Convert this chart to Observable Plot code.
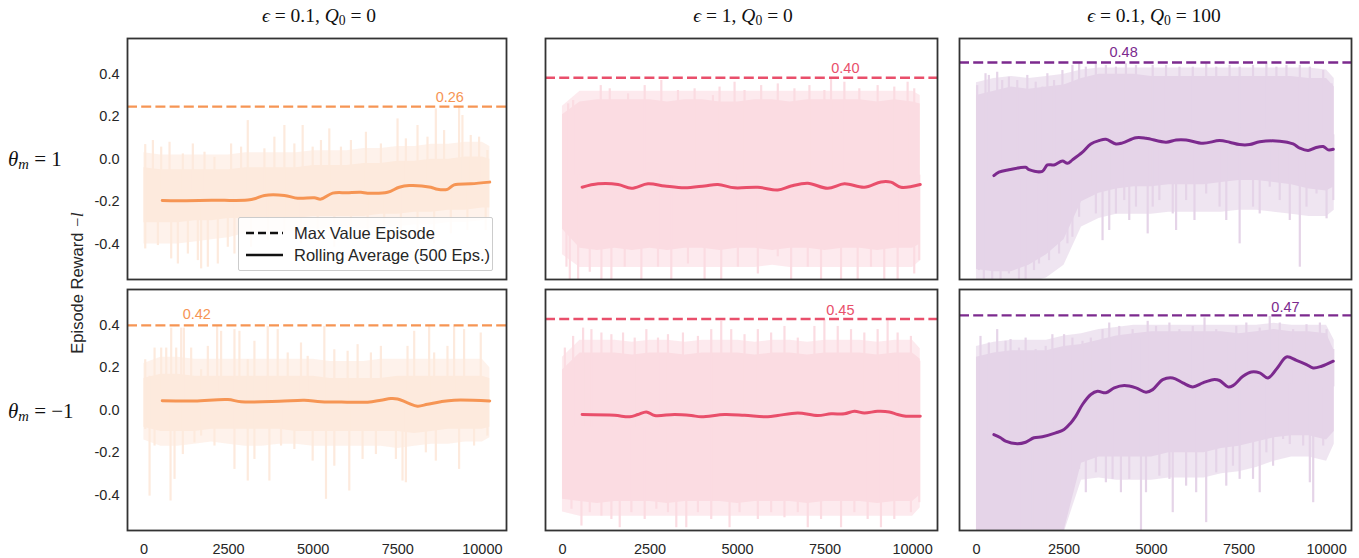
<!DOCTYPE html>
<html><head><meta charset="utf-8">
<script src="https://cdn.jsdelivr.net/npm/d3@7"></script>
<script src="https://cdn.jsdelivr.net/npm/@observablehq/plot@0.6"></script>
<style>
body{margin:0;background:#fff;}
#fig{position:relative;width:1359px;height:558px;overflow:hidden;font-family:"Liberation Sans",Arial,sans-serif;color:#262626;}
.panel{position:absolute;}
.panel svg{overflow:visible;display:block;}
.math{position:absolute;font-family:"Liberation Serif","DejaVu Serif",serif;font-size:19.5px;white-space:nowrap;color:#111;}
.math i{font-style:italic;}
.math sub{font-size:70%;vertical-align:-0.25em;line-height:0;}
#ylab{position:absolute;left:78px;top:283px;transform:translate(-50%,-50%) rotate(-90deg);font-size:16.5px;white-space:nowrap;}
#ylab i{font-family:"Liberation Serif",serif;font-style:italic;}
#legend{position:absolute;left:238px;top:217px;width:253px;height:52px;border:1px solid #cccccc;background:rgba(255,255,255,0.85);border-radius:2px;font-size:16.5px;}
#legend .row{position:absolute;left:0;height:18px;width:100%;}
#legend svg{position:absolute;left:6px;top:0;}
#legend span{position:absolute;left:55px;top:0;line-height:18px;}
</style></head><body><div id="fig"></div><script>
// ---------------- data ----------------
const colTitles = ["<i>ϵ</i> = 0.1, <i>Q</i><sub>0</sub> = 0", "<i>ϵ</i> = 1, <i>Q</i><sub>0</sub> = 0", "<i>ϵ</i> = 0.1, <i>Q</i><sub>0</sub> = 100"];
const rowTitles = ["<i>θ</i><sub><i>m</i></sub> = 1", "<i>θ</i><sub><i>m</i></sub> = −1"];
const yLabel = "Episode Reward <i>−l</i>";
const legendLabels = ["Max Value Episode", "Rolling Average (500 Eps.)"];
const xTickValues = [0, 2500, 5000, 7500, 10000];
const xTickLabels = ["0", "2500", "5000", "7500", "10000"];
const yTickValues = [-0.4, -0.2, 0, 0.2, 0.4];
const yTickLabels = ["-0.4", "-0.2", "0.0", "0.2", "0.4"];
const lineColors = ["#f69554", "#e94f6b", "#7c2a8e"];
const fillColors = ["#fdeadd", "#fbdce2", "#e5d4e8"];

const coreEp = [0,500,1000,1500,2000,2500,3000,3500,4000,4500,5000,5500,6000,6500,7000,7500,8000,8500,9000,9500,10000,10220];

// Panel A: theta=1, eps=0.1, Q0=0
const A_coreHi = [-0.04,-0.05,-0.05,-0.05,-0.05,-0.05,-0.04,-0.04,-0.04,-0.04,-0.03,-0.03,-0.03,-0.02,-0.02,-0.01,-0.01,0.0,0.0,0.01,0.01,0.0];
const A_coreLo = [-0.30,-0.30,-0.30,-0.29,-0.29,-0.28,-0.28,-0.28,-0.28,-0.28,-0.27,-0.27,-0.27,-0.27,-0.26,-0.26,-0.25,-0.25,-0.24,-0.24,-0.23,-0.23];
const A_fringeHi = [0.03,0.02,0.02,0.02,0.02,0.02,0.03,0.03,0.03,0.03,0.04,0.04,0.04,0.05,0.05,0.06,0.06,0.07,0.07,0.08,0.08,0.06];
const A_fringeLo = [-0.40,-0.40,-0.40,-0.39,-0.38,-0.37,-0.35,-0.35,-0.34,-0.34,-0.33,-0.33,-0.33,-0.33,-0.32,-0.32,-0.31,-0.31,-0.30,-0.30,-0.29,-0.28];
const A_upEp = [39,265,511,757,1150,1445,1790,2085,2576,2871,3068,3560,3855,4150,4445,4690,4985,5231,5477,5821,6116,6559,7001,7493,7739,8083,8378,8624,8869,9312,9410,9656,9902,10147];
const A_upVal = [0.069,0.088,0.057,0.080,0.025,0.072,0.033,0.009,0.072,0.057,0.182,0.049,0.104,0.159,0.072,0.159,0.057,0.088,0.143,0.057,0.088,0.127,0.072,0.190,0.096,0.159,0.104,0.237,0.135,0.245,0.206,0.112,0.104,0.041];
const A_dnEp = [39,413,806,1003,1298,1593,1691,1888,2183,2478,2675,3166,3658,4150,4641,5133,5625,6116,6608,7100,7591,8083,8575,9067,9558,10098];
const A_dnVal = [-0.423,-0.407,-0.470,-0.494,-0.447,-0.478,-0.517,-0.509,-0.494,-0.415,-0.447,-0.415,-0.384,-0.352,-0.399,-0.352,-0.415,-0.352,-0.384,-0.336,-0.384,-0.352,-0.399,-0.352,-0.336,-0.336];
const A_rollEp = [541,1000,2000,3068,3300,3560,4150,4543,5034,5231,5575,6000,6411,6608,7198,7542,7837,8476,8673,8968,9164,9656,10216];
const A_rollVal = [-0.195,-0.196,-0.194,-0.192,-0.185,-0.171,-0.171,-0.184,-0.182,-0.188,-0.160,-0.158,-0.156,-0.160,-0.156,-0.132,-0.124,-0.132,-0.142,-0.142,-0.121,-0.116,-0.108];

// Panel B: theta=1, eps=1, Q0=0
const B_coreHi = [0.21,0.27,0.28,0.28,0.28,0.28,0.27,0.28,0.28,0.27,0.27,0.28,0.28,0.27,0.28,0.28,0.28,0.28,0.27,0.28,0.27,0.26];
const B_coreLo = [-0.33,-0.42,-0.43,-0.42,-0.43,-0.42,-0.43,-0.42,-0.42,-0.43,-0.42,-0.42,-0.43,-0.42,-0.42,-0.43,-0.42,-0.42,-0.43,-0.42,-0.42,-0.40];
const B_fringeHi = [0.25,0.32,0.32,0.32,0.32,0.32,0.32,0.32,0.32,0.32,0.32,0.32,0.32,0.32,0.32,0.32,0.32,0.32,0.32,0.32,0.32,0.30];
const B_fringeLo = [-0.45,-0.51,-0.51,-0.51,-0.51,-0.51,-0.51,-0.51,-0.51,-0.51,-0.51,-0.51,-0.50,-0.51,-0.51,-0.51,-0.51,-0.51,-0.51,-0.51,-0.51,-0.48];
const B_upEp = [162,304,1093,1350,1873,2348,2823,3299,3774,4297,4487,4915,5200,5675,6150,6626,7054,7481,7671,8052,8479,9002,9478,9858,10048];
const B_upVal = [0.261,0.277,0.347,0.332,0.308,0.347,0.371,0.324,0.332,0.300,0.340,0.363,0.324,0.347,0.355,0.332,0.347,0.324,0.379,0.363,0.332,0.347,0.340,0.363,0.332];
const B_dnEp = [114,209,447,779,1112,1397,1778,2253,2728,3108,3584,4059,4534,5010,5580,6150,6531,7006,7386,7957,8432,8812,9192,9573,10048,10191];
const B_dnVal = [-0.509,-0.58,-0.58,-0.533,-0.58,-0.58,-0.509,-0.58,-0.509,-0.58,-0.494,-0.58,-0.58,-0.509,-0.541,-0.46,-0.58,-0.509,-0.58,-0.58,-0.58,-0.509,-0.58,-0.58,-0.541,-0.478];
const B_rollEp = [561,1017,1588,1968,2443,2918,3489,4059,4439,4915,5580,6150,6531,7006,7576,8052,8622,9097,9382,9668,10219];
const B_rollVal = [-0.132,-0.116,-0.119,-0.137,-0.116,-0.126,-0.135,-0.126,-0.119,-0.135,-0.132,-0.145,-0.126,-0.113,-0.137,-0.116,-0.132,-0.107,-0.108,-0.132,-0.119];

// Panel C: theta=1, eps=0.1, Q0=100
const C_coreHi = [0.30,0.32,0.34,0.33,0.34,0.35,0.38,0.40,0.40,0.40,0.39,0.39,0.39,0.39,0.39,0.39,0.39,0.39,0.39,0.38,0.38,0.34];
const C_coreLo = [-0.52,-0.53,-0.53,-0.50,-0.45,-0.38,-0.20,-0.16,-0.14,-0.13,-0.13,-0.12,-0.12,-0.12,-0.11,-0.10,-0.10,-0.11,-0.12,-0.14,-0.15,-0.13];
const C_fringeHi = [0.36,0.38,0.39,0.38,0.39,0.40,0.42,0.43,0.43,0.43,0.43,0.43,0.43,0.43,0.43,0.43,0.43,0.43,0.43,0.43,0.42,0.38];
const C_fringeLo = [-0.58,-0.58,-0.58,-0.58,-0.56,-0.50,-0.32,-0.28,-0.26,-0.26,-0.26,-0.25,-0.25,-0.25,-0.25,-0.24,-0.24,-0.25,-0.26,-0.27,-0.27,-0.24];
const C_upEp = [20,258,353,592,735,926,1165,1452,1691,1882,2025,2216,2455,2741,2932,3123,3410,3696,3983,4269,4556,5033,5415,5797,6179,6561,6848,7230,7517,7899,8281,8567,8854,9236,9522,9904,10143];
const C_upVal = [0.347,0.403,0.395,0.410,0.371,0.387,0.371,0.395,0.363,0.340,0.403,0.371,0.418,0.442,0.450,0.434,0.450,0.442,0.434,0.450,0.442,0.442,0.442,0.434,0.434,0.450,0.434,0.442,0.434,0.442,0.450,0.434,0.442,0.442,0.434,0.418,0.355];
const C_dnEp = [67,210,449,688,926,1213,1404,1643,1786,2073,2359,2598,2741,2837,2932,3123,3266,3410,3601,3792,3983,4221,4364,4556,4890,5033,5224,5606,5702,5988,6227,6561,6944,7135,7517,7899,8090,8376,8663,8949,9236,9427,9713,10000,10191];
const C_dnVal = [-0.525,-0.58,-0.58,-0.58,-0.541,-0.58,-0.58,-0.525,-0.494,-0.478,-0.447,-0.399,-0.368,-0.211,-0.274,-0.164,-0.132,-0.258,-0.384,-0.336,-0.258,-0.195,-0.289,-0.226,-0.352,-0.226,-0.195,-0.258,-0.336,-0.195,-0.289,-0.164,-0.226,-0.289,-0.399,-0.226,-0.258,-0.132,-0.195,-0.289,-0.509,-0.226,-0.164,-0.281,-0.195];
const C_rollEp = [497,640,926,1404,1500,1882,2025,2216,2455,2598,2741,3028,3266,3505,3696,3983,4174,4556,4842,5415,5702,5988,6466,6944,7230,7517,7803,8090,8663,9045,9236,9475,9666,9904,10048,10191];
const C_rollVal = [-0.077,-0.061,-0.050,-0.038,-0.049,-0.057,-0.027,-0.027,-0.009,-0.019,-0.003,0.033,0.072,0.088,0.094,0.072,0.077,0.101,0.099,0.080,0.091,0.091,0.075,0.088,0.080,0.069,0.069,0.082,0.085,0.072,0.052,0.041,0.053,0.060,0.044,0.047];

// Panel D: theta=-1, eps=0.1, Q0=0
const D_coreHi = [0.15,0.17,0.17,0.16,0.16,0.16,0.16,0.16,0.16,0.16,0.16,0.15,0.15,0.15,0.15,0.16,0.16,0.16,0.16,0.16,0.16,0.15];
const D_coreLo = [-0.08,-0.10,-0.10,-0.10,-0.09,-0.09,-0.09,-0.09,-0.09,-0.10,-0.10,-0.10,-0.10,-0.10,-0.10,-0.10,-0.11,-0.10,-0.09,-0.09,-0.09,-0.08];
const D_fringeHi = [0.22,0.25,0.25,0.24,0.24,0.24,0.24,0.24,0.24,0.24,0.24,0.23,0.23,0.23,0.24,0.24,0.24,0.24,0.24,0.24,0.24,0.20];
const D_fringeLo = [-0.14,-0.17,-0.17,-0.16,-0.15,-0.16,-0.17,-0.17,-0.16,-0.16,-0.17,-0.17,-0.17,-0.17,-0.17,-0.18,-0.17,-0.16,-0.16,-0.15,-0.15,-0.13];
const D_upEp = [39,167,315,413,511,659,806,954,1101,1180,1396,1691,1888,2163,2281,2675,2822,3068,3265,3658,3953,4248,4641,4838,5330,5625,6018,6313,6706,7001,7788,7985,8427,8575,8968,9164,9459,9951,10147];
const D_upVal = [0.238,0.160,0.293,0.144,0.293,0.293,0.387,0.293,0.387,0.387,0.293,0.191,0.301,0.395,0.372,0.380,0.372,0.238,0.325,0.395,0.380,0.270,0.317,0.254,0.395,0.285,0.278,0.309,0.270,0.301,0.301,0.372,0.395,0.270,0.301,0.395,0.380,0.364,0.144];
const D_dnEp = [39,167,315,787,905,1150,1494,1691,2085,2675,3068,3265,3707,4051,4445,4985,5379,5625,6067,6460,6854,7444,7640,7739,8329,8624,9312,9754,10147];
const D_dnVal = [-0.091,-0.405,-0.169,-0.428,-0.326,-0.209,-0.154,-0.122,-0.169,-0.279,-0.334,-0.232,-0.334,-0.169,-0.185,-0.240,-0.420,-0.264,-0.381,-0.232,-0.209,-0.232,-0.334,-0.342,-0.201,-0.240,-0.279,-0.169,-0.122];
const D_rollEp = [541,1500,2478,2871,4000,4740,5231,6000,6608,7001,7296,7493,7788,8083,8378,8771,9164,10216];
const D_rollVal = [0.045,0.044,0.050,0.040,0.042,0.047,0.040,0.038,0.038,0.047,0.055,0.053,0.035,0.019,0.028,0.040,0.047,0.044];

// Panel E: theta=-1, eps=1, Q0=0
const E_coreHi = [0.19,0.27,0.27,0.27,0.26,0.27,0.27,0.26,0.27,0.27,0.27,0.26,0.27,0.27,0.26,0.27,0.27,0.27,0.26,0.27,0.27,0.24];
const E_coreLo = [-0.42,-0.43,-0.44,-0.43,-0.43,-0.43,-0.44,-0.43,-0.43,-0.43,-0.44,-0.43,-0.43,-0.43,-0.44,-0.43,-0.43,-0.43,-0.44,-0.43,-0.43,-0.40];
const E_fringeHi = [0.25,0.33,0.33,0.33,0.32,0.33,0.33,0.32,0.33,0.33,0.33,0.32,0.33,0.33,0.32,0.33,0.33,0.33,0.32,0.33,0.33,0.29];
const E_fringeLo = [-0.48,-0.50,-0.50,-0.50,-0.50,-0.50,-0.50,-0.50,-0.50,-0.50,-0.50,-0.50,-0.50,-0.50,-0.50,-0.50,-0.50,-0.50,-0.50,-0.50,-0.50,-0.46];
const E_upEp = [67,304,589,827,1112,1397,1730,2063,2396,2728,3013,3441,3869,4249,4534,4820,5200,5580,5960,6341,6721,7196,7481,7862,8242,8622,9002,9287,9573,9953,10191];
const E_upVal = [0.293,0.348,0.387,0.380,0.364,0.356,0.364,0.340,0.380,0.340,0.356,0.364,0.348,0.380,0.419,0.380,0.356,0.380,0.364,0.395,0.340,0.395,0.427,0.395,0.380,0.364,0.380,0.427,0.364,0.348,0.231];
const E_dnEp = [67,257,542,779,1112,1397,1635,1968,2348,2681,3013,3251,3536,3869,4249,4772,5057,5580,5960,6341,6721,7006,7386,7957,8337,8717,9097,9478,9953,10191];
const E_dnVal = [-0.420,-0.467,-0.546,-0.483,-0.499,-0.515,-0.554,-0.483,-0.515,-0.467,-0.483,-0.554,-0.554,-0.483,-0.515,-0.554,-0.483,-0.515,-0.483,-0.507,-0.483,-0.554,-0.515,-0.554,-0.483,-0.515,-0.554,-0.515,-0.483,-0.436];
const E_rollEp = [561,1492,1920,2158,2396,2633,3203,3679,3964,4629,5200,5865,6150,6721,7291,7671,8052,8337,8622,9002,9335,9573,9810,10219];
const E_rollVal = [-0.020,-0.024,-0.031,-0.020,-0.008,-0.025,-0.020,-0.025,-0.031,-0.020,-0.024,-0.031,-0.025,-0.013,-0.025,-0.017,-0.017,-0.005,-0.013,-0.005,-0.008,-0.020,-0.028,-0.028];

// Panel F: theta=-1, eps=0.1, Q0=100
const F_coreHi = [0.25,0.27,0.28,0.28,0.28,0.30,0.31,0.33,0.35,0.36,0.37,0.37,0.37,0.37,0.37,0.36,0.37,0.38,0.37,0.37,0.36,0.28];
const F_coreLo = [-0.58,-0.58,-0.58,-0.58,-0.58,-0.57,-0.25,-0.22,-0.22,-0.22,-0.22,-0.20,-0.20,-0.20,-0.18,-0.17,-0.15,-0.13,-0.12,-0.12,-0.14,-0.10];
const F_fringeHi = [0.30,0.32,0.33,0.33,0.33,0.35,0.36,0.38,0.39,0.40,0.40,0.40,0.40,0.40,0.40,0.40,0.40,0.41,0.40,0.40,0.40,0.33];
const F_fringeLo = [-0.58,-0.58,-0.58,-0.58,-0.58,-0.58,-0.33,-0.32,-0.33,-0.33,-0.33,-0.32,-0.32,-0.32,-0.30,-0.29,-0.27,-0.24,-0.22,-0.22,-0.24,-0.16];
const F_upEp = [115,353,592,831,974,1213,1404,1691,1977,2168,2502,2741,3028,3266,3601,3792,4078,4460,4651,4890,5129,5511,5797,6179,6514,6848,7135,7421,7708,8090,8376,8663,9045,9427,9809,10000,10191];
const F_upVal = [0.348,0.317,0.380,0.325,0.333,0.293,0.340,0.286,0.301,0.356,0.356,0.340,0.325,0.340,0.380,0.411,0.395,0.380,0.340,0.419,0.395,0.411,0.380,0.395,0.435,0.380,0.333,0.395,0.411,0.387,0.442,0.411,0.380,0.403,0.411,0.380,0.286];
const F_dnEp = [67,449,831,1213,1595,1977,2359,2598,2741,2932,3123,3410,3696,3887,4126,4364,4699,4842,5224,5511,5606,5988,6275,6561,6848,7135,7326,7517,7899,8090,8281,8472,8758,8949,9331,9522,9618,9904,10095];
const F_dnVal = [-0.58,-0.58,-0.58,-0.58,-0.58,-0.58,-0.58,-0.264,-0.358,-0.279,-0.389,-0.295,-0.342,-0.326,-0.389,-0.326,-0.58,-0.389,-0.311,-0.326,-0.483,-0.358,-0.389,-0.530,-0.295,-0.358,-0.264,-0.326,-0.326,-0.389,-0.201,-0.264,-0.138,-0.162,-0.169,-0.342,-0.436,-0.169,-0.107];
const F_rollEp = [497,688,831,1165,1404,1643,1882,2264,2502,2693,2837,3028,3266,3457,3696,3935,4221,4556,4842,5033,5320,5606,5893,6179,6466,6753,6944,7182,7326,7612,7851,8090,8328,8615,8854,9140,9427,9618,9857,10191];
const F_rollVal = [-0.115,-0.130,-0.146,-0.158,-0.151,-0.130,-0.125,-0.107,-0.091,-0.060,-0.028,0.027,0.074,0.089,0.082,0.105,0.116,0.105,0.085,0.097,0.144,0.152,0.129,0.110,0.129,0.144,0.140,0.110,0.116,0.160,0.180,0.176,0.152,0.204,0.251,0.235,0.215,0.199,0.207,0.231];

// Max value episode lines and labels (A..F)
const maxLineVal = [0.248, 0.384, 0.456, 0.400, 0.430, 0.447];
const maxLabelText = ["0.26", "0.40", "0.48", "0.42", "0.45", "0.47"];
const maxLabelEp = [9037, 8080, 4202, 1563, 7938, 8825];
const maxLabelVal = [0.292, 0.429, 0.502, 0.453, 0.471, 0.485];

// ---------------- layout ----------------
const colX = [[127, 506], [545, 937], [959, 1351]];
const rowY = [[38, 279], [289, 530]];
const xDomain = [-485, 10712];
const yDomain = [-0.567, 0.569];

const panels = [
  {r:0,c:0, hi:A_coreHi, lo:A_coreLo, fhi:A_fringeHi, flo:A_fringeLo, upEp:A_upEp, upVal:A_upVal, dnEp:A_dnEp, dnVal:A_dnVal, rEp:A_rollEp, rVal:A_rollVal},
  {r:0,c:1, hi:B_coreHi, lo:B_coreLo, fhi:B_fringeHi, flo:B_fringeLo, upEp:B_upEp, upVal:B_upVal, dnEp:B_dnEp, dnVal:B_dnVal, rEp:B_rollEp, rVal:B_rollVal},
  {r:0,c:2, hi:C_coreHi, lo:C_coreLo, fhi:C_fringeHi, flo:C_fringeLo, upEp:C_upEp, upVal:C_upVal, dnEp:C_dnEp, dnVal:C_dnVal, rEp:C_rollEp, rVal:C_rollVal},
  {r:1,c:0, hi:D_coreHi, lo:D_coreLo, fhi:D_fringeHi, flo:D_fringeLo, upEp:D_upEp, upVal:D_upVal, dnEp:D_dnEp, dnVal:D_dnVal, rEp:D_rollEp, rVal:D_rollVal},
  {r:1,c:1, hi:E_coreHi, lo:E_coreLo, fhi:E_fringeHi, flo:E_fringeLo, upEp:E_upEp, upVal:E_upVal, dnEp:E_dnEp, dnVal:E_dnVal, rEp:E_rollEp, rVal:E_rollVal},
  {r:1,c:2, hi:F_coreHi, lo:F_coreLo, fhi:F_fringeHi, flo:F_fringeLo, upEp:F_upEp, upVal:F_upVal, dnEp:F_dnEp, dnVal:F_dnVal, rEp:F_rollEp, rVal:F_rollVal},
];

const fig = document.getElementById("fig");

panels.forEach((p, k) => {
  const color = lineColors[p.c], light = fillColors[p.c];
  const ml = p.c === 0 ? 60 : 2, mr = 2, mt = 2, mb = p.r === 1 ? 28 : 2;
  const [x0, x1] = colX[p.c], [y0, y1] = rowY[p.r];
  const core = coreEp.map((e, i) => ({ep: e, hi: p.hi[i], lo: p.lo[i], fhi: p.fhi[i], flo: p.flo[i]}));
  const baseAt = e => { const i = Math.max(0, Math.min(core.length - 1, Math.round(e / 500))); return (core[i].hi + core[i].lo) / 2; };
  const ups = p.upEp.map((e, i) => ({ep: e, v: p.upVal[i], b: baseAt(e)}));
  const dns = p.dnEp.map((e, i) => ({ep: e, v: p.dnVal[i], b: baseAt(e)}));
  const roll = p.rEp.map((e, i) => ({ep: e, v: p.rVal[i]}));
  const marks = [
    Plot.areaY(core, {x: "ep", y1: "flo", y2: "fhi", fill: light, fillOpacity: 0.6, clip: true}),
    Plot.areaY(core, {x: "ep", y1: "lo", y2: "hi", fill: light, clip: true}),
    Plot.ruleX(ups, {x: "ep", y1: "b", y2: "v", stroke: light, strokeWidth: 2.2, clip: true}),
    Plot.ruleX(dns, {x: "ep", y1: "b", y2: "v", stroke: light, strokeWidth: 2.2, clip: true}),
    Plot.lineY(roll, {x: "ep", y: "v", stroke: color, strokeWidth: 3, curve: "catmull-rom"}),
    Plot.ruleY([maxLineVal[k]], {y: d => d, stroke: color, strokeWidth: 2.4, strokeDasharray: "10,4.2"}),
    Plot.text([0], {x: () => maxLabelEp[k], y: () => maxLabelVal[k], text: () => maxLabelText[k], fill: color, fontSize: 14.5}),
    Plot.frame({stroke: "#333", strokeWidth: 1.8})
  ];
  if (p.c === 0) marks.push(Plot.axisY(yTickValues, {tickSize: 0, tickPadding: 8, fontSize: 14.5, label: null, tickFormat: d => yTickLabels[yTickValues.indexOf(d)]}));
  if (p.r === 1) marks.push(Plot.axisX(xTickValues, {tickSize: 0, tickPadding: 13, fontSize: 14.5, label: null, tickFormat: d => xTickLabels[xTickValues.indexOf(d)]}));
  const svg = Plot.plot({
    width: (x1 - x0) + ml + mr,
    height: (y1 - y0) + mt + mb,
    marginLeft: ml, marginRight: mr, marginTop: mt, marginBottom: mb,
    x: {domain: xDomain, axis: null},
    y: {domain: yDomain, axis: null},
    style: {background: "transparent", overflow: "visible", fontFamily: "'Liberation Sans', Arial, sans-serif", color: "#262626"},
    marks
  });
  const div = document.createElement("div");
  div.className = "panel";
  div.style.left = (x0 - ml) + "px";
  div.style.top = (y0 - mt) + "px";
  div.appendChild(svg);
  fig.appendChild(div);
});

// column titles
const titleCenters = [319, 743, 1154];
colTitles.forEach((t, i) => {
  const d = document.createElement("div");
  d.className = "math";
  d.innerHTML = t;
  d.style.left = titleCenters[i] + "px";
  d.style.top = "16px";
  d.style.transform = "translate(-50%,-50%)";
  fig.appendChild(d);
});
// row titles
const rowCenters = [159, 411];
rowTitles.forEach((t, i) => {
  const d = document.createElement("div");
  d.className = "math";
  d.innerHTML = t;
  d.style.left = "8px";
  d.style.top = rowCenters[i] + "px";
  d.style.transform = "translate(0,-50%)";
  d.style.fontSize = "21px";
  fig.appendChild(d);
});
// y label
const yl = document.createElement("div");
yl.id = "ylab";
yl.innerHTML = yLabel;
fig.appendChild(yl);
// legend
const lg = document.createElement("div");
lg.id = "legend";
lg.innerHTML =
  `<div class="row" style="top:6px"><svg width="40" height="18"><line x1="1" x2="38" y1="9" y2="9" stroke="#111" stroke-width="2.4" stroke-dasharray="8,4"/></svg><span>${legendLabels[0]}</span></div>` +
  `<div class="row" style="top:28px"><svg width="40" height="18"><line x1="1" x2="38" y1="9" y2="9" stroke="#111" stroke-width="2.6"/></svg><span>${legendLabels[1]}</span></div>`;
fig.appendChild(lg);
</script></body></html>
